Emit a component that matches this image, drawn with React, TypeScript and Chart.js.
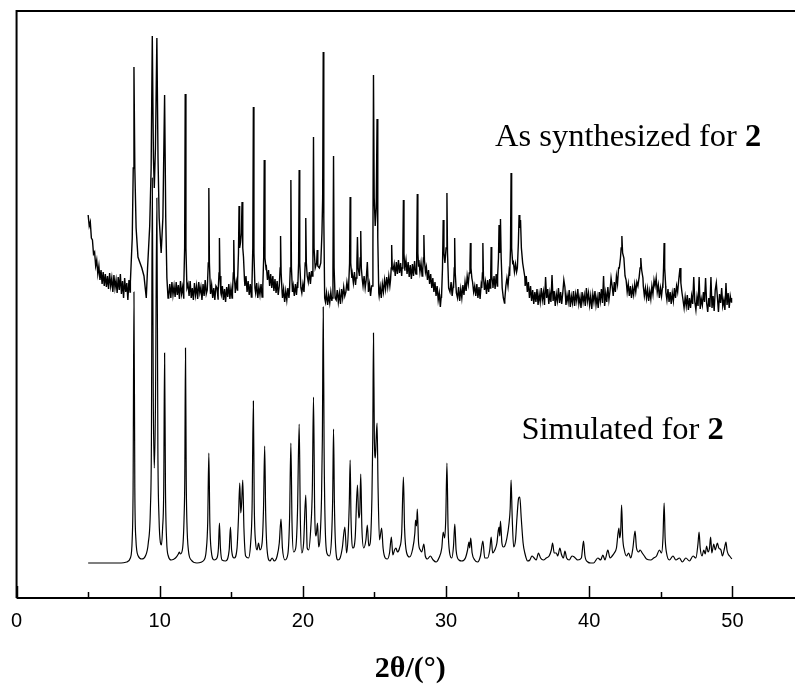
import React, { useEffect, useRef } from "react";
import { Chart, registerables } from "chart.js";

Chart.register(...registerables);

// ---- axis ----
const X_MIN = 0;
const X_MAX = 55;
const X_TICK_STEP = 10;
const X_TITLE = "2θ/(°)";

// ---- labels ----
const TOP_LABEL = "As synthesized for ";
const BOTTOM_LABEL = "Simulated for ";
const COMPOUND = "2";

// ---- As synthesized: background trace, rows of readings every 0.075° from each row start ----
// (null = hidden under the reflections listed below)
const asSynthStep = 0.075;
const asSynthBackground: [number, (number | null)[]][] = [
  [5.0, [383, 372, 376, 360, 358, 344, 346, 332, 338, 324, 332, 318, 328, 314, 326, 312, 324, 311, 322, 309,
         325, 312, 320, 306, 323, 310, 318, 305, 321, 308, 324, 304, 317, 300, 320, 306, 315, 298, 318, 306]],
  [10.625, [302, 314, 300, 316, 303]],
  [11.0, [312, 301, 316, 303, 313, 299, 317, 304, 311, 300, null, null, 306, 314, 302, 317, 300, 310, 298, 315,
          303, 312, 299, 316, 305, 311, 298, 314, 302, 318, 304, null, null, null, 304, 313, 300, 310, 298, 312]],
  [14.0, [310, 299, null, null, 303, 312, 298, 309, 296, 311, 301, 314, 299, 310, 300, null, null, 305, 316, 308,
          null, null, null, null, null, null, 312, 322, 306, 317, 303, 314, 301, null, null, null, 305, 315, 300, 311]],
  [17.0, [303, 314, 301, null, null, null, 331, 318, 328, 312, 324, 310, 322, 307, 319, 305, 317, 303, null, null,
          null, 300, 309, 296, 307, 298, 310, 300, null, null, null, 312, 302, 314, 303, 316, null, null, null, 305]],
  [20.0, [314, 306, null, null, null, 316, 326, 314, 327, null, null, null, null, null, null, null, null, null, null, null,
          null, 296, 305, 293, 303, 295, 306, 297, null, null, null, 298, 308, 296, 305, 294, 309, 300, 311, 302]],
  [23.0, [306, 316, 308, null, null, null, 324, 315, 326, 313, null, null, null, null, null, null, 312, 322, 310, null,
          null, 306, 314, 302, 312, null, null, null, null, null, null, 302, 311, 300, 314, 306, 318, 309, 321, 311]],
  [26.0, [322, 312, null, null, null, 334, 322, 336, 324, 338, 325, 335, 322, null, null, 330, 338, 324, 336, 321,
          333, 319, 334, 322, 337, 325, null, null, 338, 326, 335, 322, null, null, null, 331, 318, 328, 314, 324]],
  [29.0, [310, 320, 306, 316, 302, 312, 298, 305, 291, 304, null, null, null, null, null, null, null, 306, 316, 302,
          312, null, null, null, 300, 311, 297, 309, 300, 313, 303, 316, 307, 322, 314, 328, null, null, 316, 306]],
  [32.0, [312, 302, 314, 300, 311, 299, 313, null, null, null, 316, 304, 318, 306, 319, null, null, 310, 322, 309,
          324, 312, null, null, null, null, null, null, 298, 312, 320, 312, 326, null, null, null, 336, 326, 334, 326]],
  [35.0, [null, null, null, null, null, null, null, 312, 322, 306, 316, 300, 312, 297, 308, 294, 306, 296, 309, 293,
          304, 296, 310, 298, 306, 293, 321, 300, 309, 294, 305, 296, 323, 297, 307, 292, 304, 297, 310, 295]],
  [38.0, [306, 294, 305, 318, 311, 293, 303, 296, 308, 291, 302, 295, 307, 292, 304, 297, 309, 294, 301, 290,
          306, 296, 303, 292, 310, 297, 305, 293, 302, 289, 304, 296, 307, 293, 301, 290, 306, 297, 309, 295]],
  [41.0, [322, 292, 305, 296, 311, 298, 307, 320, 312, 302, 316, 306, 322, 314, 330, null, null, null, null, null,
          null, 318, 306, 314, 302, 312, 300, 310, 303, 314, 306, 316, 312, 320, null, null, null, 312, 302, 310]],
  [44.0, [300, 309, 297, 307, 299, 312, 304, 318, 312, 320, 306, 313, 300, 310, 302, 312, null, null, 306, 298,
          309, 296, 306, 294, 305, 297, 310, 300, 312, 306, 318, null, null, null, 298, 290, 301, 292, 303, 288]],
  [47.0, [300, 290, 302, 294, 321, 296, 288, 301, 292, 321, 289, 299, 293, 306, 296, 320, 295, 286, 300, 291,
          321, 290, 302, 287, 308, 315, 301, 286, 304, 295, 310, 292, 298, 288, 315, 293, 305, 290, 302, 296]],
];

// ---- As synthesized: reflections (each group replaces the background over its span) ----
const asSynthPeaks: number[][][] = [
  [[7.95, 316], [8.08, 360], [8.15, 430], [8.2, 531], [8.26, 430], [8.35, 370], [8.48, 341], [8.6, 336], [8.75, 330], [8.9, 322], [9.06, 300], [9.15, 330], [9.3, 372], [9.4, 430], [9.48, 562], [9.56, 440], [9.62, 410], [9.7, 450], [9.8, 560], [9.88, 440], [9.96, 380], [10.1, 345], [10.22, 380], [10.34, 503], [10.42, 380], [10.5, 320], [10.58, 300]],
  [[11.68, 312], [11.74, 350], [11.78, 504], [11.83, 350], [11.9, 310]],
  [[13.32, 308], [13.39, 335], [13.43, 410], [13.47, 335], [13.54, 306]],
  [[14.08, 306], [14.14, 325], [14.17, 360], [14.21, 322], [14.27, 305]],
  [[15.08, 306], [15.14, 325], [15.17, 358], [15.21, 322], [15.27, 308]],
  [[15.44, 318], [15.5, 345], [15.54, 392], [15.58, 350], [15.64, 355], [15.7, 365], [15.75, 396], [15.8, 350], [15.85, 341], [15.92, 318]],
  [[16.44, 312], [16.5, 350], [16.54, 491], [16.58, 345], [16.65, 310]],
  [[17.2, 312], [17.26, 340], [17.3, 438], [17.35, 340], [17.42, 330]],
  [[18.35, 312], [18.41, 330], [18.44, 362], [18.48, 325], [18.55, 305]],
  [[19.06, 306], [19.12, 330], [19.16, 418], [19.2, 330], [19.27, 306]],
  [[19.64, 310], [19.7, 335], [19.74, 428], [19.78, 335], [19.86, 310]],
  [[20.1, 312], [20.16, 335], [20.2, 380], [20.24, 335], [20.3, 322]],
  [[20.64, 322], [20.7, 350], [20.74, 461], [20.78, 350], [20.86, 330], [20.96, 335], [21.0, 348], [21.04, 332], [21.15, 330], [21.25, 335], [21.33, 365], [21.38, 400], [21.42, 546], [21.46, 380], [21.52, 300]],
  [[22.04, 300], [22.1, 330], [22.14, 442], [22.18, 330], [22.25, 300]],
  [[23.2, 314], [23.26, 335], [23.3, 401], [23.34, 335], [23.42, 320]],
  [[23.72, 320], [23.77, 335], [23.81, 361], [23.86, 330], [23.95, 322], [24.0, 340], [24.04, 367], [24.08, 330], [24.15, 318]],
  [[24.42, 318], [24.5, 336], [24.57, 310]],
  [[24.84, 312], [24.89, 350], [24.93, 523], [24.98, 400], [25.05, 372], [25.12, 390], [25.18, 479], [25.23, 360], [25.3, 305]],
  [[26.12, 318], [26.17, 330], [26.2, 353], [26.24, 330], [26.3, 328]],
  [[26.93, 330], [26.98, 345], [27.02, 398], [27.06, 345], [27.12, 328]],
  [[27.9, 324], [27.95, 345], [27.99, 404], [28.03, 345], [28.08, 332]],
  [[28.37, 328], [28.42, 340], [28.45, 363], [28.49, 338], [28.56, 326]],
  [[29.68, 300], [29.75, 330], [29.8, 378], [29.85, 345], [29.92, 335], [30.0, 350], [30.06, 405], [30.1, 345], [30.18, 310]],
  [[30.52, 310], [30.57, 330], [30.6, 360], [30.64, 325], [30.72, 305]],
  [[31.62, 325], [31.67, 335], [31.7, 355], [31.74, 330], [31.8, 320]],
  [[32.49, 310], [32.54, 325], [32.57, 355], [32.61, 322], [32.68, 308]],
  [[33.07, 310], [33.12, 325], [33.15, 351], [33.19, 322], [33.26, 314]],
  [[33.6, 322], [33.66, 340], [33.7, 373], [33.74, 345], [33.77, 350], [33.8, 379], [33.85, 340], [33.92, 310], [34.0, 300], [34.08, 295]],
  [[34.44, 322], [34.5, 350], [34.54, 425], [34.58, 350], [34.65, 335]],
  [[34.98, 330], [35.05, 355], [35.1, 383], [35.15, 370], [35.2, 378], [35.26, 350], [35.35, 335], [35.5, 321]],
  [[42.1, 330], [42.18, 340], [42.23, 350], [42.28, 362], [42.33, 345], [42.42, 340], [42.5, 322]],
  [[43.48, 320], [43.55, 330], [43.6, 340], [43.66, 328], [43.75, 320]],
  [[45.14, 310], [45.19, 330], [45.23, 355], [45.27, 330], [45.34, 312]],
  [[46.26, 318], [46.3, 325], [46.34, 330], [46.4, 315], [46.48, 305]],
  [[49.94, 300]],
];

// ---- Simulated pattern: [2θ, intensity] ----
const simulated: number[][] = [
  [5.0, 35], [7.3, 35], [7.7, 36], [7.95, 40], [8.08, 60], [8.14, 110], [8.2, 306], [8.26, 110], [8.33, 60], [8.5, 42], [8.75, 39],
  [9.0, 42], [9.2, 55], [9.35, 90], [9.42, 160], [9.48, 420], [9.55, 200], [9.62, 130], [9.7, 190], [9.8, 400], [9.87, 150], [9.95, 80],
  [10.05, 55], [10.12, 53], [10.2, 70], [10.28, 110], [10.34, 245], [10.4, 110], [10.48, 58], [10.6, 42], [10.8, 38],
  [11.1, 40], [11.3, 44], [11.36, 46], [11.45, 44], [11.6, 50], [11.7, 80], [11.75, 120], [11.8, 250], [11.85, 120], [11.9, 75],
  [12.0, 48], [12.2, 38], [12.6, 35], [13.1, 38], [13.25, 48], [13.35, 75], [13.43, 145], [13.5, 75], [13.6, 47], [13.8, 38],
  [14.0, 40], [14.1, 50], [14.17, 75], [14.24, 50], [14.35, 38], [14.6, 37], [14.85, 48], [14.94, 71], [15.02, 48], [15.2, 40],
  [15.4, 50], [15.5, 80], [15.59, 115], [15.66, 85], [15.72, 95], [15.8, 118], [15.88, 70], [16.0, 42], [16.2, 40], [16.35, 55],
  [16.45, 90], [16.54, 197], [16.6, 95], [16.7, 55], [16.8, 48], [16.9, 55], [17.0, 48], [17.15, 55], [17.25, 90], [17.33, 152],
  [17.4, 85], [17.5, 48], [17.7, 37], [17.85, 40], [18.0, 37], [18.2, 42], [18.35, 55], [18.47, 79], [18.57, 50], [18.75, 38],
  [18.95, 44], [19.07, 80], [19.16, 155], [19.24, 75], [19.35, 46], [19.5, 50], [19.62, 85], [19.74, 174], [19.82, 80], [19.92, 45],
  [20.05, 55], [20.2, 103], [20.3, 50], [20.4, 48], [20.55, 70], [20.66, 110], [20.74, 201], [20.82, 90], [20.92, 62], [21.02, 75],
  [21.1, 51], [21.2, 60], [21.3, 100], [21.36, 160], [21.42, 291], [21.48, 150], [21.56, 70], [21.7, 44], [21.85, 42], [22.0, 60],
  [22.08, 100], [22.14, 169], [22.2, 95], [22.3, 48], [22.45, 38], [22.6, 40], [22.75, 50], [22.93, 71], [23.05, 45], [23.15, 60],
  [23.24, 95], [23.3, 138], [23.36, 80], [23.5, 50], [23.65, 60], [23.81, 113], [23.9, 80], [23.97, 85], [24.04, 124], [24.12, 70],
  [24.25, 50], [24.4, 58], [24.5, 73], [24.6, 52], [24.7, 55], [24.82, 100], [24.88, 160], [24.93, 265], [24.99, 160], [25.06, 140],
  [25.12, 160], [25.18, 175], [25.25, 110], [25.35, 58], [25.5, 70], [25.6, 50], [25.75, 40], [25.9, 39], [26.05, 45], [26.18, 61],
  [26.28, 43], [26.4, 48], [26.5, 50], [26.6, 46], [26.75, 50], [26.9, 65], [27.02, 121], [27.1, 70], [27.25, 45], [27.45, 41],
  [27.65, 48], [27.82, 65], [27.87, 78], [27.94, 72], [27.99, 89], [28.08, 55], [28.2, 48], [28.3, 46], [28.45, 54], [28.55, 42],
  [28.7, 39], [28.9, 42], [29.1, 38], [29.3, 36], [29.5, 40], [29.7, 50], [29.8, 66], [29.9, 60], [29.98, 80], [30.06, 135],
  [30.14, 70], [30.25, 45], [30.4, 40], [30.52, 52], [30.61, 74], [30.7, 48], [30.9, 38], [31.1, 37], [31.35, 40], [31.5, 48],
  [31.6, 56], [31.65, 50], [31.72, 60], [31.82, 45], [32.0, 38], [32.2, 36], [32.4, 42], [32.57, 57], [32.7, 40], [32.9, 40],
  [33.05, 48], [33.15, 61], [33.25, 45], [33.4, 48], [33.55, 55], [33.65, 68], [33.7, 71], [33.75, 62], [33.8, 77], [33.9, 55],
  [34.0, 51], [34.1, 52], [34.25, 60], [34.4, 75], [34.48, 90], [34.54, 118], [34.62, 80], [34.72, 51], [34.85, 58], [34.95, 80],
  [35.07, 100], [35.15, 101], [35.25, 80], [35.38, 55], [35.5, 45], [35.7, 37], [35.85, 38], [36.0, 42], [36.15, 40], [36.3, 38],
  [36.45, 45], [36.6, 40], [36.8, 38], [37.0, 40], [37.2, 42], [37.35, 48], [37.44, 55], [37.55, 45], [37.7, 45], [37.8, 42],
  [37.95, 50], [38.05, 44], [38.2, 40], [38.3, 47], [38.42, 40], [38.6, 38], [38.8, 42], [38.95, 41], [39.2, 38], [39.45, 40],
  [39.6, 57], [39.7, 42], [39.9, 36], [40.1, 35], [40.3, 35], [40.6, 40], [40.8, 38], [40.95, 43], [41.1, 38], [41.3, 48],
  [41.45, 40], [41.6, 42], [41.75, 45], [41.9, 50], [42.07, 70], [42.13, 60], [42.2, 68], [42.26, 93], [42.34, 60], [42.45, 48],
  [42.6, 42], [42.75, 45], [42.9, 40], [43.05, 50], [43.2, 67], [43.3, 50], [43.45, 46], [43.55, 48], [43.7, 45], [43.85, 42],
  [44.0, 39], [44.3, 38], [44.5, 40], [44.7, 42], [44.9, 48], [45.05, 45], [45.15, 60], [45.23, 95], [45.3, 60], [45.4, 45],
  [45.6, 38], [45.85, 42], [46.05, 38], [46.3, 40], [46.5, 36], [46.75, 40], [47.0, 37], [47.25, 42], [47.45, 40], [47.6, 55],
  [47.67, 66], [47.75, 50], [47.88, 42], [48.0, 48], [48.1, 44], [48.2, 52], [48.3, 46], [48.4, 50], [48.48, 61], [48.56, 45],
  [48.7, 54], [48.8, 48], [48.95, 55], [49.05, 50], [49.2, 48], [49.3, 42], [49.45, 50], [49.55, 56], [49.62, 48], [49.7, 44],
  [49.8, 42], [49.96, 39],
];

const Y_MAX = 587;

function buildTopData() {
  const spans = asSynthPeaks.map((g) => [g[0][0], g[g.length - 1][0]]);
  const bg: { x: number; y: number }[] = [];
  asSynthBackground.forEach(([start, vals]) => {
    vals.forEach((h, i) => {
      if (h === null) return;
      bg.push({ x: +(start + i * asSynthStep).toFixed(3), y: h });
    });
  });
  const kept = bg.filter((p) => !spans.some(([a, b]) => p.x >= a && p.x <= b));
  const pk = asSynthPeaks.flat().map(([x, y]) => ({ x, y }));
  return [...kept, ...pk].sort((a, b) => a.x - b.x);
}

const framePlugin = {
  id: "frameAndLabels",
  afterDraw(chart: any) {
    const { ctx, chartArea } = chart;
    const xs = chart.scales.x;
    const { left, top, right, bottom } = chartArea;
    ctx.save();
    ctx.strokeStyle = "#000";
    ctx.lineWidth = 2;
    ctx.beginPath();
    ctx.moveTo(left, bottom);
    ctx.lineTo(left, top);
    ctx.lineTo(right, top);
    ctx.lineTo(right, bottom);
    ctx.lineTo(left, bottom);
    ctx.stroke();
    ctx.lineWidth = 1.5;
    for (let v = X_MIN; v <= X_MAX; v += 5) {
      const px = Math.round(xs.getPixelForValue(v)) + 0.5;
      const len = v % 10 === 0 ? 12 : 6;
      ctx.beginPath();
      ctx.moveTo(px, bottom);
      ctx.lineTo(px, bottom - len);
      ctx.stroke();
    }
    ctx.fillStyle = "#000";
    ctx.textBaseline = "alphabetic";
    ctx.textAlign = "left";
    const drawLabel = (text: string, x: number, y: number) => {
      ctx.font = '32.5px "Liberation Serif", "Times New Roman", serif';
      ctx.fillText(text, x, y);
      const w = ctx.measureText(text).width;
      ctx.font = 'bold 32.5px "Liberation Serif", "Times New Roman", serif';
      ctx.fillText(COMPOUND, x + w, y);
    };
    drawLabel(TOP_LABEL, 495, 145.5);
    drawLabel(BOTTOM_LABEL, 521.5, 439);
    ctx.restore();
  },
};

export default function App() {
  const ref = useRef<HTMLCanvasElement | null>(null);
  useEffect(() => {
    if (!ref.current) return;
    const chart = new Chart(ref.current, {
      type: "line",
      data: {
        datasets: [
          {
            data: buildTopData(),
            borderColor: "#000",
            borderWidth: 1.4,
            pointRadius: 0,
            tension: 0,
            fill: false,
          },
          {
            data: simulated.map(([x, y]) => ({ x, y })),
            borderColor: "#000",
            borderWidth: 1.2,
            pointRadius: 0,
            cubicInterpolationMode: "monotone",
            fill: false,
          },
        ],
      },
      plugins: [framePlugin],
      options: {
        animation: false,
        responsive: false,
        devicePixelRatio: 1,
        layout: { padding: { left: 15, top: 11, right: 16, bottom: 0 } },
        plugins: { legend: { display: false }, tooltip: { enabled: false } },
        scales: {
          x: {
            type: "linear",
            min: X_MIN,
            max: X_MAX,
            grid: { display: false, drawTicks: false },
            border: { display: false },
            ticks: {
              stepSize: X_TICK_STEP,
              includeBounds: false,
              autoSkip: false,
              maxRotation: 0,
              padding: 11,
              color: "#000",
              font: { family: '"Liberation Sans", Arial, sans-serif', size: 20 },
            },
            title: {
              display: true,
              text: X_TITLE,
              color: "#000",
              padding: { top: 0, bottom: 1 },
              font: { family: '"Liberation Serif", "Times New Roman", serif', size: 30, weight: "bold" },
            },
            afterFit: (axis: any) => {
              axis.height = 90;
            },
          },
          y: {
            display: false,
            min: 0,
            max: Y_MAX,
          },
        },
      },
    } as any);
    return () => chart.destroy();
  }, []);
  return (
    <div
      style={{
        position: "fixed",
        left: 0,
        top: 0,
        width: 795,
        height: 688,
        overflow: "hidden",
        background: "#fff",
      }}
    >
      <canvas ref={ref} width={820} height={688} style={{ display: "block", width: 820, height: 688 }} />
    </div>
  );
}
